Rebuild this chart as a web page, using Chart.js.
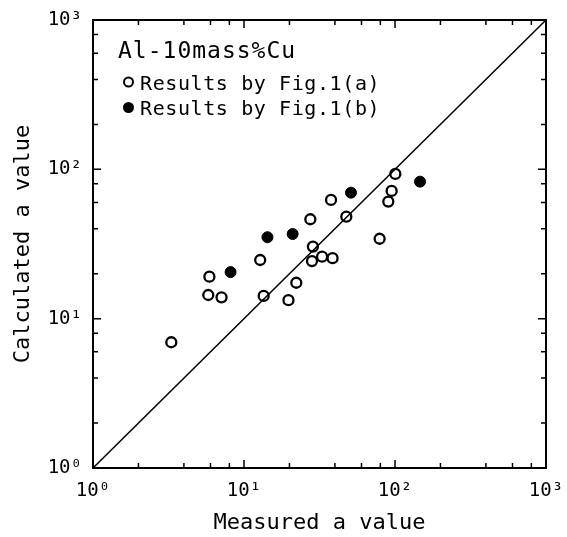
<!DOCTYPE html>
<html>
<head>
<meta charset="utf-8">
<script src="https://cdn.jsdelivr.net/npm/chart.js@4"></script>
<style>
  html, body { margin: 0; padding: 0; background: #fff; }
  #wrap { width: 567px; height: 537px; }
</style>
</head>
<body>
<div id="wrap"><canvas id="chart" width="567" height="537"></canvas></div>
<script>
// data (measured vs calculated a value)
const openX = [3.3, 5.9, 5.8, 7.1, 12.8, 13.5, 19.7, 22.2, 27.5, 28.6, 28.2, 32.9, 38.6, 37.7, 47.6, 79.1, 90.3, 95.0, 100.5];
const openY = [6.95, 19.1, 14.4, 13.9, 24.7, 14.2, 13.3, 17.4, 46.3, 30.4, 24.3, 26.0, 25.4, 62.4, 48.2, 34.3, 60.8, 71.7, 93.1];
const filledX = [8.15, 14.3, 21.0, 51.1, 146.5];
const filledY = [20.5, 35.1, 36.9, 69.8, 82.7];
const lineX = [1, 1000];
const lineY = [1, 1000];

const majorTicks = [1, 10, 100, 1000];
const tickLabels = ['10⁰', '10¹', '10²', '10³'];
const minorTicks = [2, 4, 6, 8, 20, 40, 60, 80, 200, 400, 600, 800];

const titleText = 'Al-10mass%Cu';
const legendA = 'Results by Fig.1(a)';
const legendB = 'Results by Fig.1(b)';

const FONT = '"DejaVu Sans Mono", "Liberation Mono", monospace';

function toPoints(xs, ys) {
    return xs.map((x, i) => ({ x: x, y: ys[i] }));
}

// frame, inward ticks and the legend text inside the plot
const framePlugin = {
    id: 'frame',
    afterDraw(chart) {
        const ctx = chart.ctx;
        const a = chart.chartArea;
        const xs = chart.scales.x;
        const ys = chart.scales.y;
        ctx.save();
        ctx.strokeStyle = '#000';
        ctx.lineWidth = 2;
        ctx.strokeRect(a.left, a.top, a.right - a.left, a.bottom - a.top);

        ctx.lineWidth = 1.5;
        const tick = (v, len) => {
            const px = xs.getPixelForValue(v);
            const py = ys.getPixelForValue(v);
            ctx.beginPath();
            ctx.moveTo(px, a.bottom); ctx.lineTo(px, a.bottom - len);
            ctx.moveTo(px, a.top); ctx.lineTo(px, a.top + len);
            ctx.moveTo(a.left, py); ctx.lineTo(a.left + len, py);
            ctx.moveTo(a.right, py); ctx.lineTo(a.right - len, py);
            ctx.stroke();
        };
        majorTicks.forEach(v => tick(v, 8));
        minorTicks.forEach(v => tick(v, 5));

        // legend block
        ctx.fillStyle = '#000';
        ctx.textBaseline = 'alphabetic';
        ctx.textAlign = 'left';
        ctx.font = '23px ' + FONT;
        ctx.letterSpacing = '1px';
        ctx.fillText(titleText, a.left + 25, a.top + 38);

        ctx.font = '20px ' + FONT;
        ctx.letterSpacing = '0.6px';
        ctx.fillText(legendA, a.left + 47, a.top + 70);
        ctx.fillText(legendB, a.left + 47, a.top + 95);

        ctx.lineWidth = 2;
        ctx.beginPath();
        ctx.arc(a.left + 35.5, a.top + 62, 4.5, 0, Math.PI * 2);
        ctx.stroke();
        ctx.beginPath();
        ctx.arc(a.left + 35.5, a.top + 87.5, 5.5, 0, Math.PI * 2);
        ctx.fill();
        ctx.restore();
    }
};

const logAxis = (title, titlePadding) => ({
    type: 'logarithmic',
    min: 1,
    max: 1000,
    afterBuildTicks: scale => { scale.ticks = majorTicks.map(v => ({ value: v })); },
    grid: { display: false, drawTicks: false },
    border: { display: false },
    ticks: {
        color: '#000',
        font: { family: FONT, size: 19 },
        padding: 12,
        maxRotation: 0,
        autoSkip: false,
        callback: value => tickLabels[majorTicks.indexOf(value)]
    },
    title: {
        display: true,
        text: title,
        color: '#000',
        font: { family: FONT, size: 22 },
        padding: titlePadding
    }
});

const xAxis = logAxis('Measured a value', { top: 0, bottom: 1 });
xAxis.afterFit = scale => {
    scale.height = 69;
    scale.paddingLeft = 0;
    scale.paddingRight = 0;
};
const yAxis = logAxis('Calculated a value', { top: 10, bottom: 0 });
yAxis.ticks.padding = 11;
yAxis.afterFit = scale => {
    scale.width = 93;
    scale.paddingTop = 0;
    scale.paddingBottom = 0;
};

new Chart(document.getElementById('chart'), {
    type: 'scatter',
    data: {
        datasets: [
            {
                type: 'line',
                data: toPoints(lineX, lineY),
                borderColor: '#000',
                borderWidth: 1.5,
                pointRadius: 0,
                fill: false
            },
            {
                data: toPoints(openX, openY),
                backgroundColor: '#fff',
                borderColor: '#000',
                borderWidth: 2.3,
                pointRadius: 5
            },
            {
                data: toPoints(filledX, filledY),
                backgroundColor: '#000',
                borderColor: '#000',
                borderWidth: 1,
                pointRadius: 5.5
            }
        ]
    },
    options: {
        responsive: false,
        animation: false,
        layout: { padding: { left: 0, top: 20, right: 21, bottom: 0 } },
        plugins: {
            legend: { display: false },
            tooltip: { enabled: false }
        },
        scales: { x: xAxis, y: yAxis }
    },
    plugins: [framePlugin]
});
</script>
</body>
</html>
